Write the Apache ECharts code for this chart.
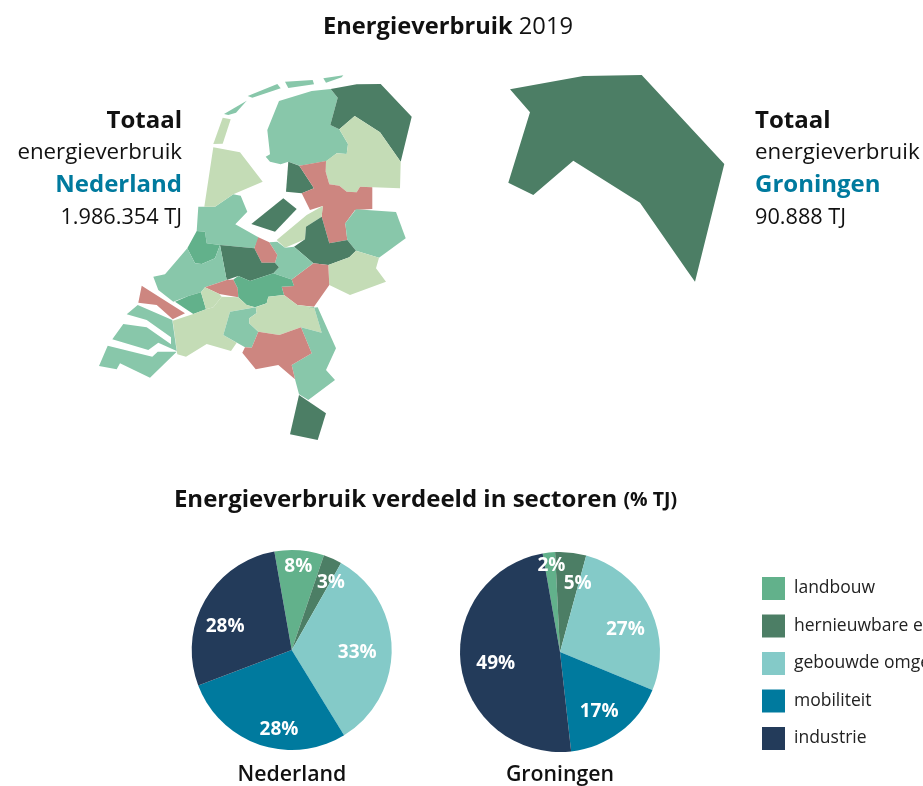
<!DOCTYPE html>
<html>
<head>
<meta charset="utf-8">
<style>
  html, body { margin: 0; padding: 0; background: #fff; }
  #chart { width: 923px; height: 786px; }
</style>
</head>
<body>
<div id="chart"></div>
<script src="https://cdn.jsdelivr.net/npm/echarts@6/dist/echarts.min.js"></script>
<script>
// sectoren en aandeel per gebied (% TJ)
const sectors = ["landbouw", "hernieuwbare energie", "gebouwde omgeving", "mobiliteit", "industrie"];
const nederlandValues = [8, 3, 33, 28, 28];
const groningenValues = [2, 5, 27, 17, 49];
const sectorColors = ["#62b18b", "#4c7e65", "#84cac8", "#007a9e", "#233b5a"];

// kaartgebieden: naam, kleurgroep, omtrek
const regionNames = [
  "Texel", "Vlieland", "Terschelling", "Ameland", "Schiermonnikoog", "Friesland", "Groningen",
  "Drenthe", "Noordoostpolder", "Overijssel", "Twente", "Flevoland", "Noord-Veluwe", "Veluwe",
  "Achterhoek", "Arnhem", "Amersfoort", "Utrecht", "Amsterdam", "Noord-Holland", "Haarlemmermeer",
  "Rijnmond", "Zuid-Holland", "Hoeksche Waard", "Rivierenland", "Goeree", "West-Brabant",
  "Voorne", "Schouwen", "Beveland", "Zeeuws-Vlaanderen", "Midden-Brabant", "De Kempen",
  "Limburg", "Oost-Brabant", "Zuid-Limburg", "Groningen groot"
];
const regionGroups = [
  "licht", "midden", "midden", "midden", "midden", "midden", "donker",
  "licht", "donker", "roze", "midden", "donker", "licht", "donker",
  "licht", "roze", "midden", "roze", "midden", "licht", "groen",
  "donker", "midden", "roze", "groen", "groen", "licht",
  "licht", "roze", "midden", "midden", "midden", "licht",
  "midden", "roze", "donker", "donker"
];
const regionOutlines = [
  [[213.3,144],[222.7,117.7],[230.7,119.3],[222.7,143.7]],
  [[224,114],[246.7,100.7],[236,112.7],[228.3,115]],
  [[247.7,96],[277.3,84],[280.7,88.3],[252.3,97.7]],
  [[285,81.7],[312.7,80],[314,84.3],[288.3,88]],
  [[323.3,78.3],[343.3,75.3],[341.7,77.3],[326,82.7]],
  [[279,101],[311.7,91],[330.7,89],[337.7,97.7],[330.3,125],[339.3,129.3],[348,144],[346.7,154],[336.7,153.3],[326.7,161],[300,165.7],[288.3,161.7],[280.7,164.3],[270,161.7],[265.7,156.7],[270,154.3],[267.3,130]],
  [[330.7,89],[356.7,84.3],[380.7,84],[411.7,116.7],[400.7,161.7],[380,132.3],[354.7,116],[339.3,129.3],[330.3,125],[337.7,97.7]],
  [[339.3,129.3],[354.7,116],[380,132.3],[400.7,161.7],[400,188.3],[360,186.7],[356.7,192.3],[346.7,191.7],[339.3,185.7],[329.3,184.3],[325.7,171.7],[326,161],[336.7,153.3],[346.7,154],[348,144]],
  [[288.3,161.7],[299.3,165.7],[314,188.3],[301.7,193.3],[286,191.7]],
  [[299.3,165.7],[326,161],[325.7,171.7],[329.3,184.3],[339.3,185.7],[346.7,191.7],[356.7,192.3],[360,186.7],[372.3,187.2],[372.3,209],[355,210],[345.3,223.3],[347.3,240],[329.3,243.3],[321.7,216.7],[322.7,206],[310,210],[301.7,193.3],[314,188.3]],
  [[356,209.3],[396,212],[405.7,238.3],[379,257.7],[356,250.7],[347.3,240],[345.3,223.3]],
  [[283.3,198.3],[296.7,209],[275,231.7],[251.3,224]],
  [[276.7,240],[306.7,215],[322.7,206],[321.7,216.7],[306,226.7],[305,239.3],[285,247.7]],
  [[321.7,216.7],[329.3,243.3],[347.3,240],[356,250.7],[349.3,257.3],[328.3,265],[313.3,263.3],[294,246.7],[305,239.3],[306,226.7]],
  [[356,250.7],[379,257.7],[376,268.3],[386,281.7],[350,295],[329.3,285],[328.3,265],[349.3,257.3]],
  [[291.7,279.5],[313.3,263.3],[328.3,265],[329.3,285],[314,306.7],[297.3,305],[284,295],[281.7,286.7],[294,286]],
  [[269.3,242.3],[277.3,241.7],[285,247.7],[294,246.7],[313.3,263.3],[291.7,279.5],[273.3,273.3],[279,267.3],[275,262.7],[277.3,255]],
  [[254.3,248.3],[257.3,236.7],[269.3,242.3],[277.3,255],[275,262.7],[261.7,262.7]],
  [[198.3,206.7],[215,206.7],[233.3,194.3],[240.7,195.7],[247.3,211.7],[235.3,224.3],[258.3,237.3],[254.3,248.3],[220,245],[206.7,243.3],[205,231.7],[196.7,231]],
  [[213.3,147.3],[240,152.3],[262.7,181.7],[233.3,194.3],[215,206.7],[204.3,206.7]],
  [[196.7,231],[205,231.7],[206.7,243.3],[220,245],[215,258.3],[201.7,264],[195,263.3],[187.3,248.3]],
  [[220,245],[254.3,248.3],[261.7,262.7],[275,262.7],[279,267.3],[273.3,273.3],[250,281],[238.3,276],[226.7,280]],
  [[187.3,248.3],[195,263.3],[201.7,264],[215,258.3],[220,245],[226.7,280],[205,287.3],[201,292.3],[188.3,296],[173.3,301.7],[158.3,290],[153.3,276.7],[165,274.3]],
  [[205,287.3],[226.7,280],[233.3,279.5],[237.7,288.3],[238.3,297.3],[219.3,294]],
  [[233.3,279.5],[238.3,276],[250,281],[273.3,273.3],[291.7,279.5],[294,286],[281.7,286.7],[284,295],[268.3,296.7],[266.7,303.3],[255,307.3],[246.7,305],[238.3,297.3],[237.7,288.3]],
  [[175,301.7],[188.3,296],[201,292.3],[206,309.3],[193.3,314]],
  [[172.7,320.7],[193.3,314],[206,309.3],[213.3,307.3],[221.7,296.7],[238.3,297.3],[246.7,305],[255,307.3],[230,311.7],[223.3,335],[236.7,342.7],[231,351],[206.7,344],[186,356.7],[177.3,354.3]],
  [[201,292.3],[205,287.3],[219.3,294],[221.7,296.7],[213.3,307.3],[206,309.3]],
  [[141.7,285.7],[185,313.3],[172.7,319.3],[156.7,305],[138.3,302.7]],
  [[126.7,314.3],[137.7,305],[172.3,320],[176.7,351],[158.3,342.7],[148.3,350],[112.3,339.3],[123.3,324],[146.7,327.3],[171,344.3],[171,337.3],[146.7,320]],
  [[99,366],[107.7,345.7],[152.3,356.7],[157.7,351.7],[176.7,351.7],[150,377.7],[120,363.3],[116.7,369.3]],
  [[230,311.7],[255.7,307.3],[256.7,313],[249.3,318.3],[249.3,323.3],[258.3,331.7],[251.7,347.7],[245,347.3],[223.3,335]],
  [[249.3,318.3],[256.7,313],[255.7,307.3],[266.7,303.3],[268.3,296.7],[284,295],[297.3,305],[314,307],[321.7,332.7],[301,327.3],[279.3,335],[258.3,331.7],[249.3,323.3]],
  [[308.3,308.3],[317.7,307.3],[336,348.3],[326,370],[335,380],[308.3,400],[299,394.3],[295,379.3],[291.7,365],[311.7,353.3],[301,327.3],[321.7,332.7],[314,307]],
  [[258.3,331.7],[279.3,335],[301,327.3],[311.7,353.3],[291.7,365],[295,379.3],[278.3,365],[255.7,369.3],[242.3,352.7],[245,347.3],[251.7,347.7]],
  [[299,395],[326,413.3],[317.7,440],[290,434.3]],
  [[510,89.3],[583.3,76],[641.7,75],[724.3,164],[695,281.7],[686.7,270],[640,202.7],[573.3,160.7],[533.3,195],[508.3,182.7],[530,112.3]]
];

const groupColors = {
  licht: "#c4dcb6",
  midden: "#88c7aa",
  donker: "#4c7e65",
  roze: "#cd8680",
  groen: "#62b18b",
};

const font = "'Open Sans', 'Noto Sans', sans-serif";

// kaart in pagina-pixels, projectie doet verder niets
echarts.registerMap("nederland", {
  type: "FeatureCollection",
  features: regionNames.map((name, i) => ({
    type: "Feature",
    properties: { name: name },
    geometry: { type: "Polygon", coordinates: [[...regionOutlines[i], regionOutlines[i][0]]] },
  })),
});

function heading(text, left, y, align, size, weight, color, rich) {
  return {
    text: text,
    left: left,
    top: y - 20,
    padding: 0,
    textAlign: align,
    textStyle: {
      fontFamily: font,
      fontSize: size,
      fontWeight: weight,
      color: color || "#111",
      lineHeight: 40,
      rich: rich,
    },
  };
}

function pie(name, values, center, offsets) {
  return {
    name: name,
    type: "pie",
    silent: true,
    center: center,
    radius: 100,
    startAngle: 100,
    animation: false,
    avoidLabelOverlap: false,
    labelLayout: { hideOverlap: false },
    label: {
      position: "inside",
      formatter: "{c}%",
      color: "#fff",
      fontFamily: font,
      fontWeight: "bold",
      fontSize: 19,
      lineHeight: 16,
    },
    labelLine: { show: false },
    data: values.map((v, i) => ({
      name: sectors[i],
      value: v,
      label: { offset: offsets[i] },
      itemStyle: { color: sectorColors[i] },
    })),
  };
}

const option = {
  animation: false,
  title: [
    heading("{b|Energieverbruik} {n|2019}", 448, 27, "center", 23.7, "bold", "#111", {
      b: { fontFamily: font, fontSize: 23.7, fontWeight: "bold", color: "#111" },
      n: { fontFamily: font, fontSize: 23.7, fontWeight: "normal", color: "#111" },
    }),
    heading("{b|Energieverbruik verdeeld in sectoren} {s|(% TJ)}", 425.5, 500, "center", 24, "bold", "#111", {
      b: { fontFamily: font, fontSize: 24, fontWeight: "bold", color: "#111" },
      s: { fontFamily: font, fontSize: 19.5, fontWeight: "bold", color: "#111" },
    }),
    heading("Totaal", 182, 121.5, "right", 24, "bold"),
    heading("energieverbruik", 182, 153, "right", 22.3, "normal"),
    heading("Nederland", 182, 185, "right", 24, "bold", "#007a9e"),
    heading("1.986.354 TJ", 182, 218, "right", 21.7, "normal"),
    heading("Totaal", 755, 121.5, "left", 24, "bold"),
    heading("energieverbruik", 755, 153, "left", 22.3, "normal"),
    heading("Groningen", 755, 185, "left", 24, "bold", "#007a9e"),
    heading("90.888 TJ", 755, 218, "left", 21.7, "normal"),
    heading("Nederland", 292, 775, "center", 21.3, 600),
    heading("Groningen", 560, 775, "center", 21.3, 600),
  ],
  legend: {
    orient: "vertical",
    left: 762,
    top: 577,
    padding: 0,
    icon: "rect",
    itemWidth: 23,
    itemHeight: 23,
    itemGap: 14.5,
    selectedMode: false,
    data: sectors,
    textStyle: { fontFamily: font, fontSize: 17.5, color: "#222", padding: [0, 0, 0, 4] },
  },
  series: [
    {
      type: "map",
      map: "nederland",
      silent: true,
      projection: { project: (p) => p, unproject: (p) => p },
      boundingCoords: [[0, 0], [923, 786]],
      left: 0,
      top: 0,
      width: 923,
      height: 786,
      roam: false,
      label: { show: false },
      itemStyle: { borderWidth: 0 },
      data: regionNames.map((name, i) => ({
        name: name,
        itemStyle: { areaColor: groupColors[regionGroups[i]] },
      })),
    },
    pie("Nederland", nederlandValues, [291.7, 650], [[2.5, -30.4], [17.5, -19], [12.6, 3.6], [4.4, 29.4], [-20.5, 2.7]]),
    pie("Groningen", groningenValues, [560, 652], [[-2.7, -33.3], [11.9, -15.6], [17.8, 1.4], [7.2, 17.4], [-11.8, 3.6]]),
  ],
};

echarts.init(document.getElementById("chart"), null, { renderer: "canvas" }).setOption(option);
</script>
</body>
</html>
